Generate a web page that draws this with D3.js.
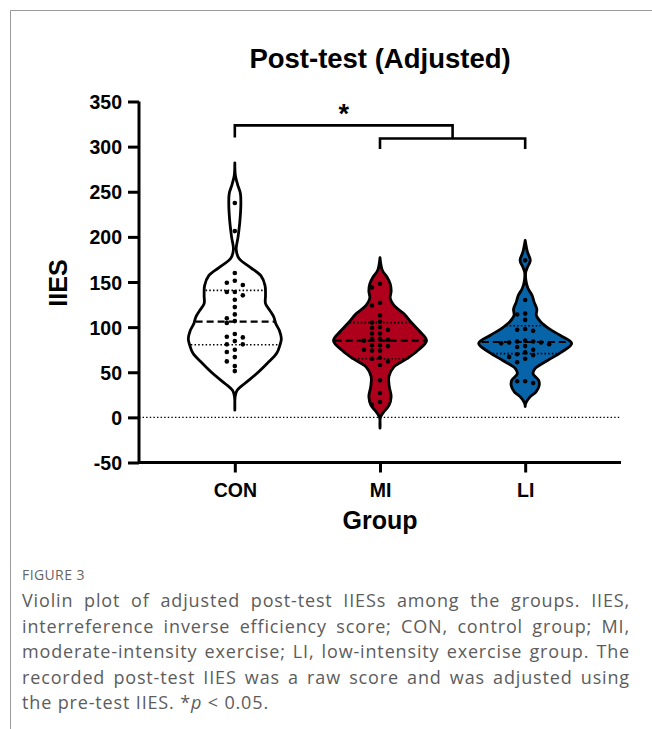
<!DOCTYPE html>
<html><head><meta charset="utf-8">
<script src="https://cdn.jsdelivr.net/npm/d3@7"></script>
<style>body{margin:0;background:#fff} svg{display:block}</style>
</head><body>
<svg id="chart" width="652" height="729"></svg>
<script>
// ---------- data ----------
const groups = ["CON", "MI", "LI"];
const yTicks = [-50, 0, 50, 100, 150, 200, 250, 300, 350];

const conPoints = [237.5, 206.4, 159.9, 151.4, 149.2, 146.6, 138.9, 138.9, 135.2, 130.4, 122.2,
  114.1, 109.7, 106.7, 104.5, 92.3, 89.4, 88.6, 84.5, 80.9, 80.9, 75, 72.4, 66.8, 62, 56.8, 51.3];
const miPoints = [148, 144, 127, 124, 113, 106, 105, 100, 99, 97, 93, 93, 87, 87, 86, 85,
  80, 80, 79, 75, 74, 74, 66, 65, 62, 58, 41, 27, 17, 14];
const liPoints = [174, 130, 115, 114, 108, 98, 97, 96, 85, 84, 84, 83, 83, 82, 81, 80, 79,
  78, 75, 72, 70, 69, 67, 65, 61, 40, 40, 38];

// relative density profiles [value, density]
const conDensity = [[282, 0], [268, 0.012], [258, 0.06], [248, 0.12], [237, 0.13], [218, 0.11], [200, 0.07],
  [186, 0.03], [176, 0.09], [166, 0.34], [157, 0.56], [146, 0.65], [135, 0.66], [126, 0.66],
  [118, 0.76], [111, 0.84], [104, 0.88], [96, 0.96], [87, 1.0], [80, 0.97], [71, 0.9],
  [60, 0.7], [48, 0.46], [37, 0.2], [30, 0.05], [24, 0.01], [8, 0]];
const miDensity = [[177, 0], [163, 0.05], [155.5, 0.15], [148, 0.22], [140, 0.24], [132, 0.22],
  [124, 0.3], [115, 0.51], [106, 0.66], [96, 0.84], [85, 1.0], [74, 0.81], [65, 0.58],
  [56, 0.3], [45, 0.19], [34, 0.2], [23, 0.24], [13, 0.19], [6, 0.08], [0, 0.01], [-12, 0]];
const liDensity = [[196, 0], [183, 0.05], [174, 0.11], [166.5, 0.05], [161, 0.012], [152, 0.015],
  [143, 0.06], [135, 0.15], [128, 0.19], [120, 0.25], [113, 0.24], [106, 0.33], [98, 0.52],
  [91, 0.75], [82, 1.0], [72, 0.77], [63, 0.48], [54, 0.21], [48.4, 0.17], [41, 0.29],
  [35, 0.3], [28, 0.23], [22.5, 0.1], [15.5, 0.01], [12, 0]];

const conQuartiles = [80.5, 106, 140.7];
const miQuartiles = [65, 85, 105];
const liQuartiles = [70.6, 83.5, 101.5];

const fills = ["#ffffff", "#ae001c", "#0864a9"];

const captionLines = [
  "Violin plot of adjusted post-test IIESs among the groups. IIES,",
  "interreference inverse efficiency score; CON, control group; MI,",
  "moderate-intensity exercise; LI, low-intensity exercise group. The",
  "recorded post-test IIES was a raw score and was adjusted using"
];

// ---------- layout ----------
const svg = d3.select("#chart");
const y = d3.scaleLinear().domain([-50, 350]).range([462.5, 101.5]);
const x = d3.scalePoint().domain(groups).range([139, 621]).padding(0.66);
const w = d3.scaleLinear().domain([0, 1]).range([0, 46.5]);
const font = "Liberation Sans, Arial, sans-serif";

const series = [
  {g: "CON", pts: conPoints, dens: conDensity, q: conQuartiles, fill: fills[0]},
  {g: "MI", pts: miPoints, dens: miDensity, q: miQuartiles, fill: fills[1]},
  {g: "LI", pts: liPoints, dens: liDensity, q: liQuartiles, fill: fills[2]}
];

// frame
svg.append("line").attr("x1", 10.5).attr("x2", 652).attr("y1", 10.5).attr("y2", 10.5)
  .attr("stroke", "#9a9a9a").attr("stroke-width", 1);
svg.append("line").attr("x1", 10.5).attr("x2", 10.5).attr("y1", 10.5).attr("y2", 729)
  .attr("stroke", "#9a9a9a").attr("stroke-width", 1);

// title
svg.append("text").attr("x", 380).attr("y", 68).attr("text-anchor", "middle")
  .attr("font-family", font).attr("font-weight", "bold")
  .attr("font-size", 27.5).text("Post-test (Adjusted)");

// zero line
svg.append("line").attr("x1", 139).attr("x2", 621).attr("y1", y(0)).attr("y2", y(0))
  .attr("stroke", "#000").attr("stroke-width", 1.4).attr("stroke-dasharray", "1.4,2.2");

function interp(dens, v) {
  for (let i = 0; i < dens.length - 1; i++) {
    const a = dens[i], b = dens[i + 1];
    if (v <= a[0] && v >= b[0]) {
      const t = (a[0] - v) / (a[0] - b[0]);
      return a[1] + t * (b[1] - a[1]);
    }
  }
  return 0;
}

const area = d3.area().curve(d3.curveCatmullRom.alpha(0.5));

series.forEach(s => {
  const cx = x(s.g);
  area.y(d => y(d[0])).x0(d => cx - w(d[1])).x1(d => cx + w(d[1]));
  svg.append("path").attr("d", area(s.dens)).attr("fill", s.fill)
    .attr("stroke", "#000").attr("stroke-width", 2.8).attr("stroke-linejoin", "round");
  s.q.forEach((v, i) => {
    const hw = w(interp(s.dens, v)) - 1.2;
    svg.append("line").attr("x1", cx - hw).attr("x2", cx + hw)
      .attr("y1", y(v)).attr("y2", y(v)).attr("stroke", "#000")
      .attr("stroke-width", i === 1 ? 2.2 : 1.6)
      .attr("stroke-dasharray", i === 1 ? "7,4" : "1.5,2.2");
  });
  const placed = [];
  s.pts.slice().sort((a, b) => b - a).forEach(v => {
    const py = y(v);
    for (const k of [0, -1, 1, -2, 2, -3, 3]) {
      if (!placed.some(p => p.k === k && Math.abs(p.py - py) < 4.6)) {
        placed.push({v, py, k}); break;
      }
    }
  });
  svg.append("g").selectAll("circle").data(placed).join("circle")
    .attr("cx", d => cx + d.k * 8).attr("cy", d => d.py).attr("r", 2.3).attr("fill", "#000");
});

// axes
const yAxis = svg.append("g").attr("transform", "translate(139,0)")
  .call(d3.axisLeft(y).tickValues(yTicks).tickFormat(d => String(d)).tickSize(11).tickPadding(6));
const xAxis = svg.append("g").attr("transform", `translate(0,${y(-50)})`)
  .call(d3.axisBottom(x).tickSize(10).tickPadding(11));
[yAxis, xAxis].forEach(a => {
  a.select(".domain").attr("stroke-width", 3).attr("stroke", "#000");
  a.selectAll(".tick line").attr("stroke-width", 3).attr("stroke", "#000");
  a.selectAll(".tick text").attr("font-family", font)
    .attr("font-weight", "bold").attr("font-size", 19.5).attr("fill", "#000");
});
yAxis.selectAll(".tick text").attr("dy", "0.36em");
yAxis.select(".domain").attr("d", `M0,${y(350)}V${y(-50)}`);
xAxis.select(".domain").attr("d", `M139,0H621`);

svg.append("text").attr("transform", "translate(67,283) rotate(-90)").attr("text-anchor", "middle")
  .attr("font-family", font).attr("font-weight", "bold")
  .attr("font-size", 25).text("IIES");
svg.append("text").attr("x", 380).attr("y", 529).attr("text-anchor", "middle")
  .attr("font-family", font).attr("font-weight", "bold")
  .attr("font-size", 25).text("Group");

// significance brackets
const bx = {l: x("CON"), m1: x("MI"), m2: x("LI")};
const mid = (bx.m1 + bx.m2) / 2;
const br = svg.append("g").attr("fill", "none").attr("stroke", "#000").attr("stroke-width", 2.6);
br.append("path").attr("d", `M${bx.l},${y(310)}V${y(323.5)}H${mid}V${y(309)}`);
br.append("path").attr("d", `M${bx.m1},${y(297.5)}V${y(309)}H${bx.m2}V${y(297.5)}`);
svg.append("text").attr("x", (bx.l + mid) / 2).attr("y", 123).attr("text-anchor", "middle")
  .attr("font-family", font).attr("font-weight", "bold")
  .attr("font-size", 27).text("*");

// caption
const capFont = "Open Sans, Lato, sans-serif";
svg.append("text").attr("x", 22).attr("y", 580).attr("font-family", capFont)
  .attr("font-size", 14).attr("letter-spacing", 0.4).attr("fill", "#666").text("FIGURE 3");
const baseY = [607, 632.5, 658, 683.5];
const left = 22, right = 630;
const capSize = 18, capLS = 0.85;
captionLines.forEach((line, li) => {
  const words = line.split(" ");
  const g = svg.append("g");
  const nodes = words.map(wd => g.append("text").attr("y", baseY[li]).attr("font-family", capFont)
    .attr("font-size", capSize).attr("letter-spacing", capLS).attr("fill", "#5c5c5c").text(wd));
  const widths = nodes.map(n => n.node().getBBox().width);
  const total = d3.sum(widths);
  const gap = (right - left - total) / (words.length - 1);
  let cur = left;
  nodes.forEach((n, i) => { n.attr("x", cur); cur += widths[i] + gap; });
});
const last = svg.append("text").attr("x", 22).attr("y", 709).attr("font-family", capFont)
  .attr("font-size", capSize).attr("letter-spacing", capLS).attr("fill", "#5c5c5c");
last.append("tspan").text("the pre-test IIES. *");
last.append("tspan").attr("font-style", "italic").text("p");
last.append("tspan").text(" < 0.05.");
</script>
</body></html>
